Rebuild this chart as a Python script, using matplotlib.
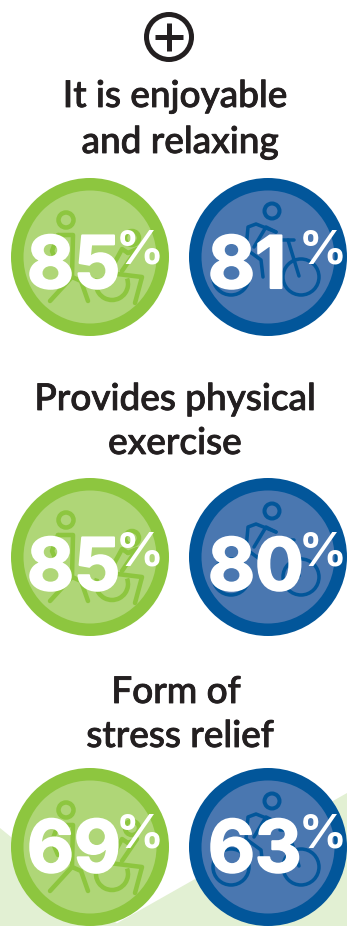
import matplotlib
matplotlib.use('Agg')
import matplotlib.pyplot as plt
from matplotlib.patches import Circle, Polygon, Arc
import matplotlib.patheffects as pe

# survey values, one row per benefit
walk_roll = [85, 85, 69]
bike = [81, 80, 63]
title_lines = [['It is enjoyable', 'and relaxing'],
               ['Provides physical', 'exercise'],
               ['Form of', 'stress relief']]

# layout in pixels
row_y = [257, 557, 847]
text_drop = [31, 33, 25]
title_base = [[107, 153], [410, 454], [703, 747]]
title_x = [[175, 180], [175, 175], [176, 180]]
green_x = 90
blue_x = 268

green = '#8DC63F'
green_in = '#AFD677'
blue = '#02569A'
blue_in = '#4A77B0'
pale = '#E2F0D3'
dark = '#231F20'

fig = plt.figure(figsize=(3.47, 9.26), dpi=100)
ax = fig.add_axes([0, 0, 1, 1])
ax.set_xlim(0, 347)
ax.set_ylim(926, 0)
ax.axis('off')


def px(w):
    return w * 0.72


def stroke(cx, cy, pts, color, w=4.5):
    ax.plot([cx + p[0] for p in pts], [cy + p[1] for p in pts], color=color,
            lw=px(w), solid_capstyle='round', solid_joinstyle='round', zorder=3)


def ring(cx, cy, r, color, w=4.5):
    ax.add_patch(Circle((cx, cy), r, fc='none', ec=color, lw=px(w), zorder=3))


def walker_icon(cx, cy):
    ring(cx - 24, cy - 37, 7.5, green)
    stroke(cx, cy, [(-32, -22), (-17, -22), (-18, 20), (-40, 44)], green)
    stroke(cx, cy, [(-18, 20), (-9, 24), (-2, 44)], green)
    stroke(cx, cy, [(-32, -22), (-38, -6), (-32, 8)], green)
    # wheelchair user
    ring(cx + 42, cy - 19, 7, green)
    stroke(cx, cy, [(38, -4), (32, -8), (19, 16), (52, 20), (45, 46)], green)
    stroke(cx, cy, [(38, -4), (47, -8), (32, 14)], green)
    ax.add_patch(Arc((cx + 22, cy + 27), 32, 32, theta1=-20, theta2=200,
                     ec=green, lw=px(4.5), zorder=3))


def cyclist_icon(cx, cy):
    ring(cx + 4, cy - 46, 7.5, blue, 4)
    ax.add_patch(Circle((cx - 37, cy + 20), 18, fc='none', ec=blue, lw=px(3.5), zorder=3))
    ax.add_patch(Circle((cx + 33, cy + 20), 18, fc='none', ec=blue, lw=px(3.5), zorder=3))
    stroke(cx, cy, [(8, -25), (-12, -33), (-20, -30), (-22, -8), (-7, 3), (-5, 20)], blue, 3.5)
    stroke(cx, cy, [(8, -25), (-2, -30), (-14, -10)], blue, 3.5)
    stroke(cx, cy, [(20, -17), (31, 19)], blue, 3.5)
    stroke(cx, cy, [(12, -17), (26, -17)], blue, 3.5)


def badge(cx, cy, value, drop, ring_col, fill_col, icon, num_dx, pct_dx):
    ax.add_patch(Circle((cx, cy), 79, fc=ring_col, ec='none', zorder=2))
    ax.add_patch(Circle((cx, cy), 66.5, fc=fill_col, ec='none', zorder=2))
    icon(cx, cy)
    ax.text(cx + num_dx, cy + drop, str(value), color='white', fontsize=52, family='Inter',
            weight='bold', ha='left', va='baseline', zorder=4,
            path_effects=[pe.withStroke(linewidth=1.5, foreground='white')])
    ax.text(cx + pct_dx, cy + drop - 25, '%', color='white', fontsize=34, family='Inter',
            weight='bold', ha='left', va='baseline', zorder=4)


# pale background hills along the bottom edge
ax.add_patch(Polygon([(0, 828), (120, 926), (0, 926)], fc=pale, ec='none', zorder=1))
ax.add_patch(Polygon([(347, 793), (112, 926), (347, 926)], fc=pale, ec='none', zorder=1))

# plus sign in a circle
ax.add_patch(Circle((169, 37), 22.5, fc='none', ec=dark, lw=px(5), zorder=3))
ax.plot([155, 183], [37, 37], color=dark, lw=px(5), solid_capstyle='butt')
ax.plot([169, 169], [23, 51], color=dark, lw=px(5), solid_capstyle='butt')

for i in range(3):
    for line, x, y in zip(title_lines[i], title_x[i], title_base[i]):
        ax.text(x, y, line, color=dark, fontsize=26.6, family='Lato', weight='medium',
                ha='center', va='baseline',
                path_effects=[pe.withStroke(linewidth=0.6, foreground=dark)])
    badge(green_x, row_y[i], walk_roll[i], text_drop[i], green, green_in, walker_icon, -63, 26)
    badge(blue_x, row_y[i], bike[i], text_drop[i], blue, blue_in, cyclist_icon, -60, 31)

fig.savefig('out.png', dpi=100)
